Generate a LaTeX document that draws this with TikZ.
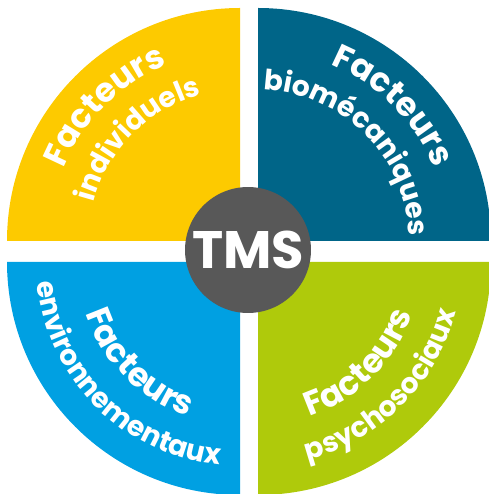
\documentclass[tikz,border=0pt]{standalone}
\usepackage{fontspec}
\setmainfont{Poppins}
\usetikzlibrary{decorations.text}
\definecolor{jaune}{RGB}{253,202,0}
\definecolor{bleufonce}{RGB}{0,101,136}
\definecolor{bleuclair}{RGB}{0,160,226}
\definecolor{vert}{RGB}{175,202,11}
\definecolor{gris}{RGB}{88,88,88}
\newcommand\grand{\fontsize{19}{23}\selectfont\bfseries}
\newcommand\petit{\fontsize{16}{19}\selectfont\bfseries}
\tikzset{
	x=0.02cm, y=0.02cm, % one unit is one pixel of the picture
	quart/.style={fill=#1}, % a quarter of the disc
	mot/.style={decorate, decoration={text along path, text align=center, text color=white, text={#1}}}, % white words on an arc
	rond/.style={circle, fill=gris, minimum size=2.52cm, inner sep=0pt, text=white, font=\fontsize{30}{30}\selectfont\bfseries}, % the middle disc
}
\begin{document}
\begin{tikzpicture}
	\useasboundingbox (0,0) rectangle (488,494);
	% the four quarters
	\fill[quart=jaune] (240,253) -- ++(180:233) arc[start angle=180, end angle=90, radius=233] -- cycle;
	\fill[quart=bleufonce] (258,253) -- ++(90:233) arc[start angle=90, end angle=0, radius=233] -- cycle;
	\fill[quart=bleuclair] (240,232) -- ++(180:233) arc[start angle=180, end angle=270, radius=233] -- cycle;
	\fill[quart=vert] (258,232) -- ++(270:233) arc[start angle=270, end angle=360, radius=233] -- cycle;
	% words on the arcs
	\path[mot={|\grand|Facteurs}] (240,253) ++(180:191) arc[start angle=180, end angle=90, radius=191];
	\path[mot={|\petit|individuels}] (240,253) ++(180:151) arc[start angle=180, end angle=90, radius=151];
	\path[mot={|\grand|Facteurs}] (258,253) ++(90:191) arc[start angle=90, end angle=0, radius=191];
	\path[mot={|\petit|biomécaniques}] (258,253) ++(90:151) arc[start angle=90, end angle=0, radius=151];
	\path[mot={|\grand|Facteurs}] (240,232) ++(180:163) arc[start angle=180, end angle=270, radius=163];
	\path[mot={|\petit|environnementaux}] (240,232) ++(180:204) arc[start angle=180, end angle=270, radius=204];
	\path[mot={|\grand|Facteurs}] (258,232) ++(270:163) arc[start angle=270, end angle=360, radius=163];
	\path[mot={|\petit|psychosociaux}] (258,232) ++(270:204) arc[start angle=270, end angle=360, radius=204];
	% the middle
	\node[rond] (tms) at (248,244) {TMS};
\end{tikzpicture}
\end{document}
